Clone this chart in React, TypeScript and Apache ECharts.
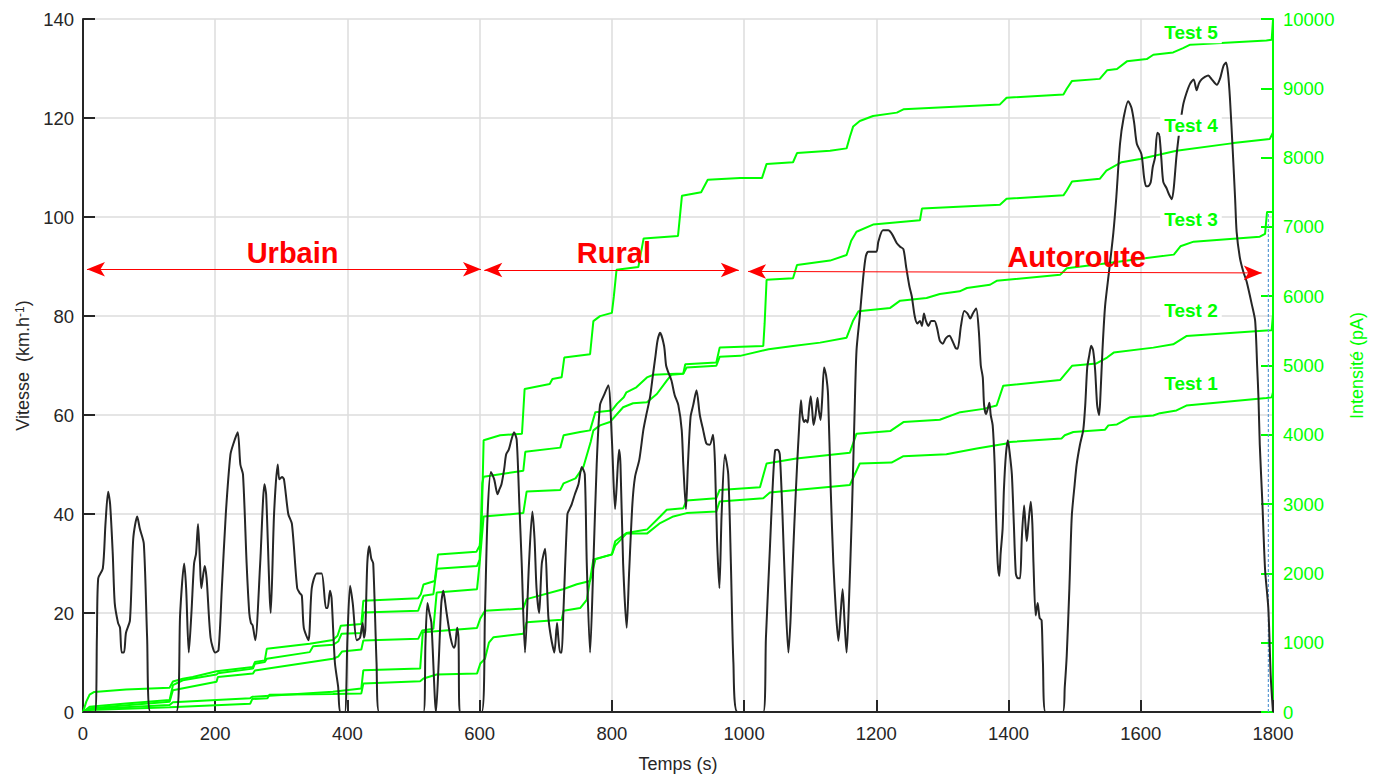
import React, { useEffect, useRef } from "react";
import * as echarts from "echarts";

// ---------- DATA ----------
const xTicks = [0, 200, 400, 600, 800, 1000, 1200, 1400, 1600, 1800];
const speedTicks = [0, 20, 40, 60, 80, 100, 120, 140];
const currentTicks = [0, 1000, 2000, 3000, 4000, 5000, 6000, 7000, 8000, 9000, 10000];

// speed profile [time s, km/h]
const speed: number[][] = [
  [0,0],[18,0],[21,15],[23,27],[30,29],[34,38],[38,44.5],[41,42],[45,32],[48,22],[53,18],[56,17],[58.5,12],[62,12],[65,16],[71,18.5],[76,35],[82,39.5],[86,37],[92,34],[97,15],[102,0],
  [141,0],[147,20],[153,30],[156,25],[160,12],[164,20],[168,30],[171,32],[174,38],[177,30],[179,25],[184,29.5],[187,27],[193,15],[200,12],[205,12.5],[210,25],[216,40],[223,52],[227,54],[234,56.5],[238,50],[242,48],[247.5,30],[251.5,20],[254,18],[256.6,17.5],[260.6,14.5],[268,30],[274.5,46],[277,44],[284,20],[289,40],[294.5,50],[297,47],[301,47.5],[304,47],[310.5,40],[316,38],[324,25],[328,24],[331,23.5],[334,17],[341,14.5],[346,25],[353.5,28],[361,28],[367.5,21],[370,21],[373.6,24.5],[376,23],[381,10],[386,5],[389,0],[396,0],[400,15],[404,25.5],[408,22],[414,14.5],[419,15],[423,18],[425,15],[427,16.5],[430,30],[433,33.5],[436,31],[439,30],[444,10],[448,0],
  [515,0],[518,14],[521,22],[524,20],[527,18],[534,0],[538,10],[542,22],[545,24.5],[548,22],[550,20],[556,15],[561,13],[563,13.5],[566,17],[568,15],[570,0],
  [603,0],[608,20],[612,40],[617,48.5],[622,47],[627,44],[630,45],[633,46],[637,49],[640,52],[644,53],[648,55],[652,56.5],[656,55],[660,42],[663.6,30],[668.6,12],[674.6,30],[679.7,40.5],[683,35],[686,25],[690,20],[694,30],[699,33],[702,25],[704,19],[708,15],[713,12],[717,18],[719,15],[721.7,12],[724,12],[726.6,20],[732.7,40],[736,41],[739.3,42],[744,44],[749.4,46],[754.4,49.5],[759,48],[762,30],[767,12],[772,30],[777,50],[782,62],[788,64],[794.6,66],[800,55],[804.8,41],[807,45],[810.8,53],[813,50],[817,30],[822.4,17],[826,28],[831,42],[835,47.5],[841.5,51],[847.6,57],[852,60],[857.7,63.6],[862,68],[866,72],[869,75],[872.8,76.6],[878.9,74],[882,70],[885.4,68.6],[890,67],[895,64],[900.5,62],[905.6,57],[908,50],[912,41],[915,50],[919,59.6],[923,62],[928,65],[933,60],[938,57],[943,54.2],[948,54],[953,56],[956,50],[959,35],[962.6,25],[966,40],[971,52],[976,48],[980,30],[983.8,10],[990,0],
  [1029,0],[1033,15],[1039,33],[1043,45],[1047,52.9],[1051,53],[1054,52],[1058,40],[1062,25],[1067,12],[1070,18],[1072,25],[1076,38],[1080,49.5],[1083,57],[1086,63],[1088,60],[1090.7,58.6],[1093,59],[1096,58.5],[1098,61],[1100.7,63.8],[1103,61],[1105,58],[1108,60],[1111,63.5],[1113,61],[1115.6,59],[1118,63],[1121,69.6],[1124,68],[1127,64],[1131,45],[1135,30],[1139,20],[1142.6,14.4],[1146,20],[1149,24.8],[1152,18],[1155,12],[1158,20],[1163,40],[1167,60],[1170,73],[1175,80],[1180,87.6],[1184,92],[1188,93],[1200,93],[1203,95],[1210,97.3],[1218,97.3],[1224,96.5],[1231,94.7],[1236,94],[1241,93.5],[1245,90],[1250,86],[1253.6,84],[1258,80],[1262,78.5],[1266,79],[1269,78],[1272,80.5],[1275,79],[1278.7,78],[1283,79],[1288,79],[1292,77.5],[1296,75],[1300.5,74.4],[1305,75.5],[1310.5,76],[1315,75],[1320,73.5],[1323,73.4],[1328,78],[1333,81],[1338,80.5],[1342,79.5],[1346,80.5],[1351,81.5],[1355,77],[1358,70],[1361,67.6],[1363,62],[1366,60.2],[1368,61],[1371,62.5],[1373,60],[1376,57.9],[1379,50],[1381,40],[1383.6,30],[1386,27.5],[1388,32],[1391,37],[1393,45],[1396,52],[1399,54.9],[1402,52],[1405,48],[1408,38],[1411,28],[1414,27],[1417.4,27],[1420,35],[1423.5,41.7],[1425.5,38],[1427.5,34.5],[1430,38],[1433.6,42.5],[1436,38],[1437.7,30],[1441,19.5],[1444,22],[1447,19],[1450,18.5],[1452,10],[1456,0],
  [1482,0],[1485,5],[1488,11.4],[1492,25],[1495.6,39.5],[1500,46],[1503,50],[1508,54],[1513,57],[1516,62],[1519,69.6],[1522,72],[1525,74],[1528,73],[1531,69],[1534,62],[1537,60],[1539,64],[1542,73],[1546,82],[1552,89],[1558.5,96.8],[1563,104],[1568.6,114.8],[1574,120],[1581,123.4],[1586,122],[1590,119],[1594,114.8],[1601,112.7],[1605,108],[1608,106.2],[1611,106.2],[1615,107],[1618,110],[1621.5,112],[1625,117],[1628,116.6],[1631,112],[1634,107.1],[1639,105.8],[1643,104.5],[1647,103.6],[1650,106],[1654,112.3],[1659,118],[1664,122.6],[1669,125],[1674.5,126.9],[1680,127.8],[1684.5,125.6],[1688,127],[1692,127.8],[1697,128.3],[1702,128.6],[1708,127.7],[1715,126.7],[1720,128],[1725,130.5],[1729,131.2],[1732,129],[1735,123.7],[1739,113.7],[1742.7,103.7],[1745,97],[1750,91.7],[1755,89],[1760,87],[1768,82.3],[1773,79],[1776,70],[1778,63.6],[1780,54],[1784,42],[1788,28.8],[1793,20.8],[1796.5,7.4],[1800,0]
];

// cumulative current [time s, pA]
const test5: number[][] = [
  [0,0],[5,150],[10,250],[17,290],[65,325],[131,350],[136,440],[151,480],[166,506],[202,587],[257,650],[260,720],[275,745],[278,912],[343,984],[378,1040],[385,1100],[390,1246],[421,1270],[424,1605],[507,1643],[511,1700],[515,1840],[532,1891],[537,2274],[595,2311],[600,2400],[603,2700],[606,3921],[631,3993],[664,4016],[668,4661],[706,4732],[710,4804],[724,4830],[728,5115],[767,5162],[772,5640],[782,5712],[800,5759],[803,6000],[807,6380],[840,6420],[848,6834],[900,6870],[906,7450],[935,7500],[945,7680],[994,7704],[1027,7704],[1034,7909],[1074,7933],[1080,8066],[1130,8099],[1155,8133],[1160,8300],[1165,8450],[1175,8529],[1195,8601],[1231,8649],[1241,8696],[1387,8768],[1397,8864],[1483,8911],[1488,8993],[1496,9107],[1538,9136],[1549,9260],[1564,9279],[1579,9389],[1609,9422],[1619,9484],[1649,9518],[1664,9580],[1674,9627],[1790,9690],[1798,9700],[1800,9986]
];
const test4: number[][] = [
  [0,0],[10,76],[65,124],[131,172],[136,387],[151,458],[202,540],[204,560],[257,626],[260,697],[275,720],[278,769],[343,864],[348,950],[378,970],[386,1017],[391,1128],[421,1140],[424,1437],[507,1461],[515,1676],[530,1700],[535,2067],[596,2106],[600,2200],[604,3300],[606,3396],[666,3481],[669,3754],[722,3815],[727,3993],[752,4040],[767,4064],[775,4327],[800,4351],[808,4450],[818,4542],[822,4613],[837,4685],[853,4828],[863,4866],[888,4876],[908,4885],[911,5019],[958,5043],[963,5258],[1029,5282],[1031,5600],[1034,6237],[1074,6260],[1080,6451],[1130,6514],[1155,6595],[1162,6800],[1170,6930],[1195,7034],[1266,7096],[1269,7264],[1387,7321],[1397,7407],[1483,7455],[1488,7526],[1496,7655],[1538,7694],[1548,7813],[1571,7933],[1599,7980],[1654,8099],[1740,8209],[1795,8267],[1800,8362]
];
const test3: number[][] = [
  [0,0],[10,53],[131,148],[136,315],[202,435],[204,506],[257,554],[260,600],[378,769],[386,800],[392,874],[421,902],[424,1032],[507,1056],[513,1175],[530,1200],[535,1724],[596,1772],[600,2153],[606,2822],[666,2870],[671,3181],[722,3205],[727,3300],[745,3371],[757,3539],[768,3900],[772,4064],[782,4136],[797,4184],[817,4398],[832,4456],[853,4470],[868,4589],[883,4781],[890,4866],[908,4880],[913,4971],[958,4996],[963,5125],[994,5139],[1037,5234],[1074,5282],[1115,5330],[1155,5401],[1165,5650],[1173,5784],[1221,5831],[1236,5936],[1276,5974],[1296,6032],[1326,6070],[1337,6118],[1372,6165],[1382,6222],[1478,6308],[1488,6404],[1549,6476],[1600,6540],[1650,6600],[1660,6720],[1680,6787],[1780,6858],[1788,6900],[1791,7216],[1800,7216]
];
const test2: number[][] = [
  [0,0],[10,43],[131,100],[136,140],[253,200],[256,219],[378,291],[421,340],[424,602],[510,626],[514,1150],[596,1213],[601,1350],[608,1461],[666,1494],[671,1629],[726,1772],[747,1844],[767,1891],[775,2202],[800,2274],[805,2464],[822,2583],[853,2632],[873,2822],[883,2918],[908,2941],[913,3052],[958,3085],[963,3205],[1024,3243],[1034,3586],[1079,3658],[1160,3740],[1170,4016],[1221,4054],[1241,4184],[1296,4217],[1327,4327],[1362,4374],[1382,4422],[1392,4709],[1478,4790],[1496,4996],[1533,5029],[1549,5115],[1559,5186],[1619,5258],[1649,5306],[1669,5425],[1790,5506],[1798,5510],[1800,5735]
];
const test1: number[][] = [
  [0,0],[10,30],[131,67],[253,120],[256,186],[279,200],[282,250],[378,258],[421,268],[424,411],[510,444],[515,483],[535,540],[596,554],[601,700],[608,769],[614,1000],[621,1079],[666,1128],[671,1294],[724,1332],[727,1461],[752,1500],[762,1619],[772,2202],[800,2274],[805,2400],[822,2574],[853,2574],[873,2726],[893,2822],[913,2870],[958,2894],[963,3037],[1029,3085],[1039,3166],[1079,3205],[1160,3276],[1175,3586],[1223,3600],[1241,3692],[1306,3720],[1352,3801],[1397,3873],[1402,3897],[1480,3945],[1485,3993],[1498,4040],[1546,4074],[1551,4136],[1564,4150],[1584,4255],[1619,4279],[1629,4312],[1654,4351],[1669,4422],[1790,4532],[1798,4540],[1800,4613]
];
const markerLine: number[][] = [[1793,0],[1793,7216]];

const testNames = ["Test 1", "Test 2", "Test 3", "Test 4", "Test 5"];
const testLabelPos: number[][] = [[1676,4742],[1676,5788],[1676,7106],[1676,8467],[1676,9800]];

const phaseNames = ["Urbain", "Rural", "Autoroute"];
const phaseLabelPos: number[][] = [[317,92.7],[803,92.7],[1503,91.9]];
const phaseArrows: number[][][] = [
  [[6,89.45],[602,89.45]],
  [[607,89.3],[992,89.3]],
  [[1006,89.0],[1783,88.7]]
];

const GREEN = "#00ff00";
const DARK = "#262626";
const FONT = "'Liberation Sans', Arial, Helvetica, sans-serif";

export default function App() {
  const ref = useRef<HTMLDivElement>(null);
  useEffect(() => {
    if (!ref.current) return;
    const chart = echarts.init(ref.current, undefined, { renderer: "svg" });
    const tests = [test1, test2, test3, test4, test5];
    const greenSeries: any[] = tests.map((d, i) => ({
      type: "line",
      name: testNames[i],
      yAxisIndex: 1,
      data: d,
      showSymbol: false,
      symbol: "none",
      lineStyle: { color: GREEN, width: 2 },
      z: 2,
      markPoint: {
        silent: true,
        symbol: "circle",
        symbolSize: 0,
        data: [{ coord: testLabelPos[i], value: testNames[i] }],
        label: {
          show: true,
          position: "inside",
          formatter: testNames[i],
          color: GREEN,
          fontSize: 19,
          fontWeight: "bold",
          fontFamily: FONT,
          backgroundColor: "#ffffff",
          padding: [1, 4],
        },
      },
    }));
    const option: any = {
      animation: false,
      textStyle: { fontFamily: FONT },
      grid: { left: 83, right: 108, top: 19, bottom: 61, containLabel: false },
      xAxis: {
        type: "value",
        min: 0,
        max: 1800,
        interval: 200,
        name: "Temps (s)",
        nameLocation: "middle",
        nameGap: 43,
        nameTextStyle: { fontSize: 18, color: DARK, fontFamily: FONT },
        axisLine: { show: true, lineStyle: { color: DARK, width: 2 } },
        axisTick: { show: true, inside: true, length: 12, lineStyle: { color: DARK, width: 2 } },
        axisLabel: {
          fontSize: 18.5, color: DARK, margin: 12, fontFamily: FONT,
          formatter: (v: number) => (xTicks.includes(v) ? String(v) : ""),
        },
        splitLine: { show: true, lineStyle: { color: "#dcdcdc", width: 1.5 } },
      },
      yAxis: [
        {
          type: "value",
          min: 0,
          max: 140,
          interval: 20,
          position: "left",
          name: "Vitesse  (km.h{sup|-1})",
          nameLocation: "middle",
          nameGap: 47,
          nameTextStyle: {
            fontSize: 18, color: DARK, fontFamily: FONT,
            rich: { sup: { fontSize: 12, verticalAlign: "top", color: DARK, fontFamily: FONT, lineHeight: 14 } },
          },
          axisLine: { show: true, lineStyle: { color: DARK, width: 2 } },
          axisTick: { show: true, inside: true, length: 12, lineStyle: { color: DARK, width: 2 } },
          axisLabel: {
            fontSize: 18.5, color: DARK, margin: 9, fontFamily: FONT,
            formatter: (v: number) => (speedTicks.includes(v) ? String(v) : ""),
          },
          splitLine: { show: true, lineStyle: { color: "#dcdcdc", width: 1.5 } },
        },
        {
          type: "value",
          min: 0,
          max: 10000,
          interval: 1000,
          position: "right",
          name: "Intensité (pA)",
          nameLocation: "middle",
          nameGap: 75,
          nameTextStyle: { fontSize: 18, color: GREEN, fontFamily: FONT },
          axisLine: { show: true, lineStyle: { color: GREEN, width: 2 } },
          axisTick: { show: true, inside: true, length: 12, lineStyle: { color: GREEN, width: 2 } },
          axisLabel: {
            fontSize: 18.5, color: GREEN, margin: 10, fontFamily: FONT,
            formatter: (v: number) => (currentTicks.includes(v) ? String(v) : ""),
          },
          splitLine: { show: false },
        },
      ],
      series: [
        ...greenSeries,
        {
          type: "line",
          name: "marker",
          yAxisIndex: 1,
          data: markerLine,
          showSymbol: false,
          symbol: "none",
          lineStyle: { color: "#5b9bd5", width: 1.2, type: [3, 2] },
          z: 3,
        },
        {
          type: "line",
          name: "Vitesse",
          yAxisIndex: 0,
          data: speed,
          showSymbol: false,
          symbol: "none",
          smooth: 0.25,
          lineStyle: { color: DARK, width: 2 },
          z: 4,
          markLine: {
            silent: true,
            symbol: ["arrow", "arrow"],
            symbolSize: [11, 18],
            lineStyle: { color: "#ff0000", width: 1, type: "solid" },
            label: { show: false },
            data: phaseArrows.map((a) => [{ coord: a[0] }, { coord: a[1] }]),
          },
          markPoint: {
            silent: true,
            symbol: "circle",
            symbolSize: 0,
            data: phaseLabelPos.map((p, i) => ({ coord: p, value: phaseNames[i], name: phaseNames[i] })),
            label: {
              show: true,
              position: "inside",
              formatter: (p: any) => p.name,
              color: "#ff0000",
              fontSize: 29,
              fontWeight: "bold",
              fontFamily: FONT,
            },
          },
        },
      ],
    };
    chart.setOption(option);
    return () => chart.dispose();
  }, []);
  return (
    <div
      ref={ref}
      style={{ position: "absolute", left: 0, top: 0, width: 1381, height: 778, background: "#fff" }}
    />
  );
}
